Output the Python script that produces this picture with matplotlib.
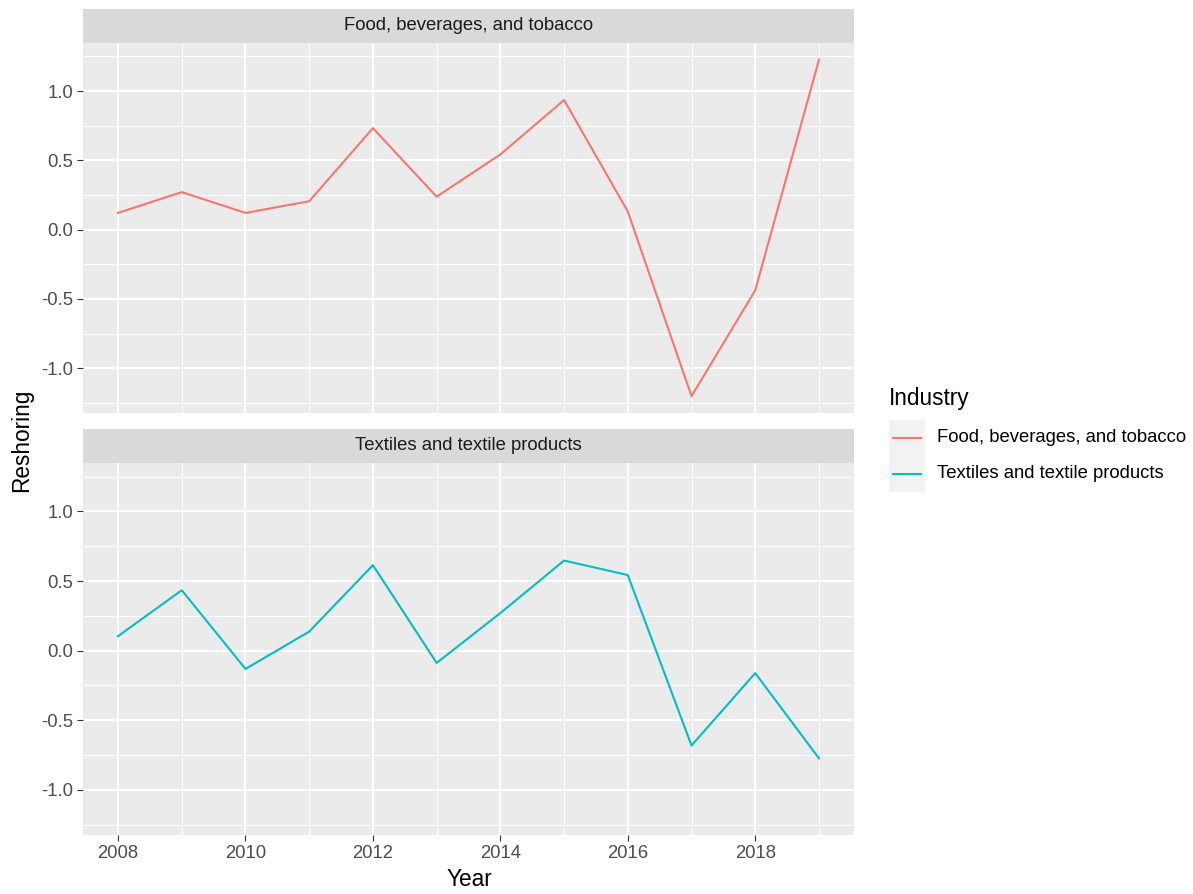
import matplotlib
matplotlib.use("Agg")
import matplotlib.pyplot as plt
import numpy as np

# data
years = np.arange(2008, 2020)
food = [0.121, 0.271, 0.121, 0.205, 0.733, 0.238, 0.543, 0.936, 0.131, -1.202, -0.438, 1.226]
textiles = [0.104, 0.434, -0.131, 0.137, 0.614, -0.088, 0.270, 0.647, 0.543, -0.681, -0.161, -0.773]
industries = ["Food, beverages, and tobacco", "Textiles and textile products"]
colors = ["#F8766D", "#00BFC4"]
series = [food, textiles]

W, H = 1193, 894
fig = plt.figure(figsize=(W / 100, H / 100), dpi=100)
plt.rcParams['font.family'] = ['Liberation Sans', 'DejaVu Sans']

small = 13.3
big = 16.3

# ggplot style expanded limits
allv = np.concatenate([food, textiles])
ymin, ymax = allv.min(), allv.max()
yr = ymax - ymin
ylim = (ymin - 0.05 * yr, ymax + 0.05 * yr)
xlim = (years[0] - 0.05 * 11, years[-1] + 0.05 * 11)

left, right = 83, 854
panels = [(43, 413), (463, 835)]
strip_h = 34


def px(x0, y0, x1, y1):
    return [x0 / W, 1 - y1 / H, (x1 - x0) / W, (y1 - y0) / H]


for i, (top, bot) in enumerate(panels):
    ax = fig.add_axes(px(left, top, right, bot))
    ax.set_facecolor("#EBEBEB")
    for s in ax.spines.values():
        s.set_visible(False)
    ax.set_xlim(*xlim)
    ax.set_ylim(*ylim)
    ax.set_xticks(np.arange(2008, 2019, 2))
    ax.set_xticks(np.arange(2009, 2020, 2), minor=True)
    ax.set_yticks([-1.0, -0.5, 0.0, 0.5, 1.0])
    ax.set_yticks([-1.25, -0.75, -0.25, 0.25, 0.75, 1.25], minor=True)
    ax.set_yticklabels(["-1.0", "-0.5", "0.0", "0.5", "1.0"])
    ax.grid(which="major", color="white", lw=1.4)
    ax.grid(which="minor", color="white", lw=0.7)
    ax.set_axisbelow(True)
    ax.tick_params(which="minor", length=0)
    ax.tick_params(axis="y", length=4, color="#333333", labelsize=small,
                   labelcolor="#4D4D4D", pad=3)
    if i == 0:
        ax.tick_params(axis="x", length=0, labelbottom=False)
    else:
        ax.tick_params(axis="x", length=4, color="#333333", labelsize=small,
                       labelcolor="#4D4D4D", pad=3)
    ax.plot(years, series[i], color=colors[i], lw=1.5)

    # facet strip
    sax = fig.add_axes(px(left, top - strip_h, right, top))
    sax.set_facecolor("#D9D9D9")
    sax.set_xticks([])
    sax.set_yticks([])
    for s in sax.spines.values():
        s.set_visible(False)
    sax.text(0.5, 0.5, industries[i], ha="center", va="center",
             fontsize=small, color="#1A1A1A", transform=sax.transAxes)

fig.text(22 / W, 1 - 440 / H, "Reshoring", rotation=90, ha="center", va="center",
         fontsize=big, color="black")
fig.text(469 / W, 1 - 880 / H, "Year", ha="center", va="center",
         fontsize=big, color="black")

# legend
lax = fig.add_axes([0, 0, 1, 1])
lax.set_xlim(0, W)
lax.set_ylim(H, 0)
lax.axis("off")
lax.text(889, 399, "Industry", ha="left", va="center", fontsize=big)
for k in range(2):
    y0 = 420 + k * 36
    lax.add_patch(plt.Rectangle((889, y0), 36, 36, color="#F2F2F2", lw=0))
    lax.plot([893, 921], [y0 + 18, y0 + 18], color=colors[k], lw=1.5)
    lax.text(937, y0 + 18, industries[k], ha="left", va="center", fontsize=small)

fig.savefig("out.png", dpi=100)
